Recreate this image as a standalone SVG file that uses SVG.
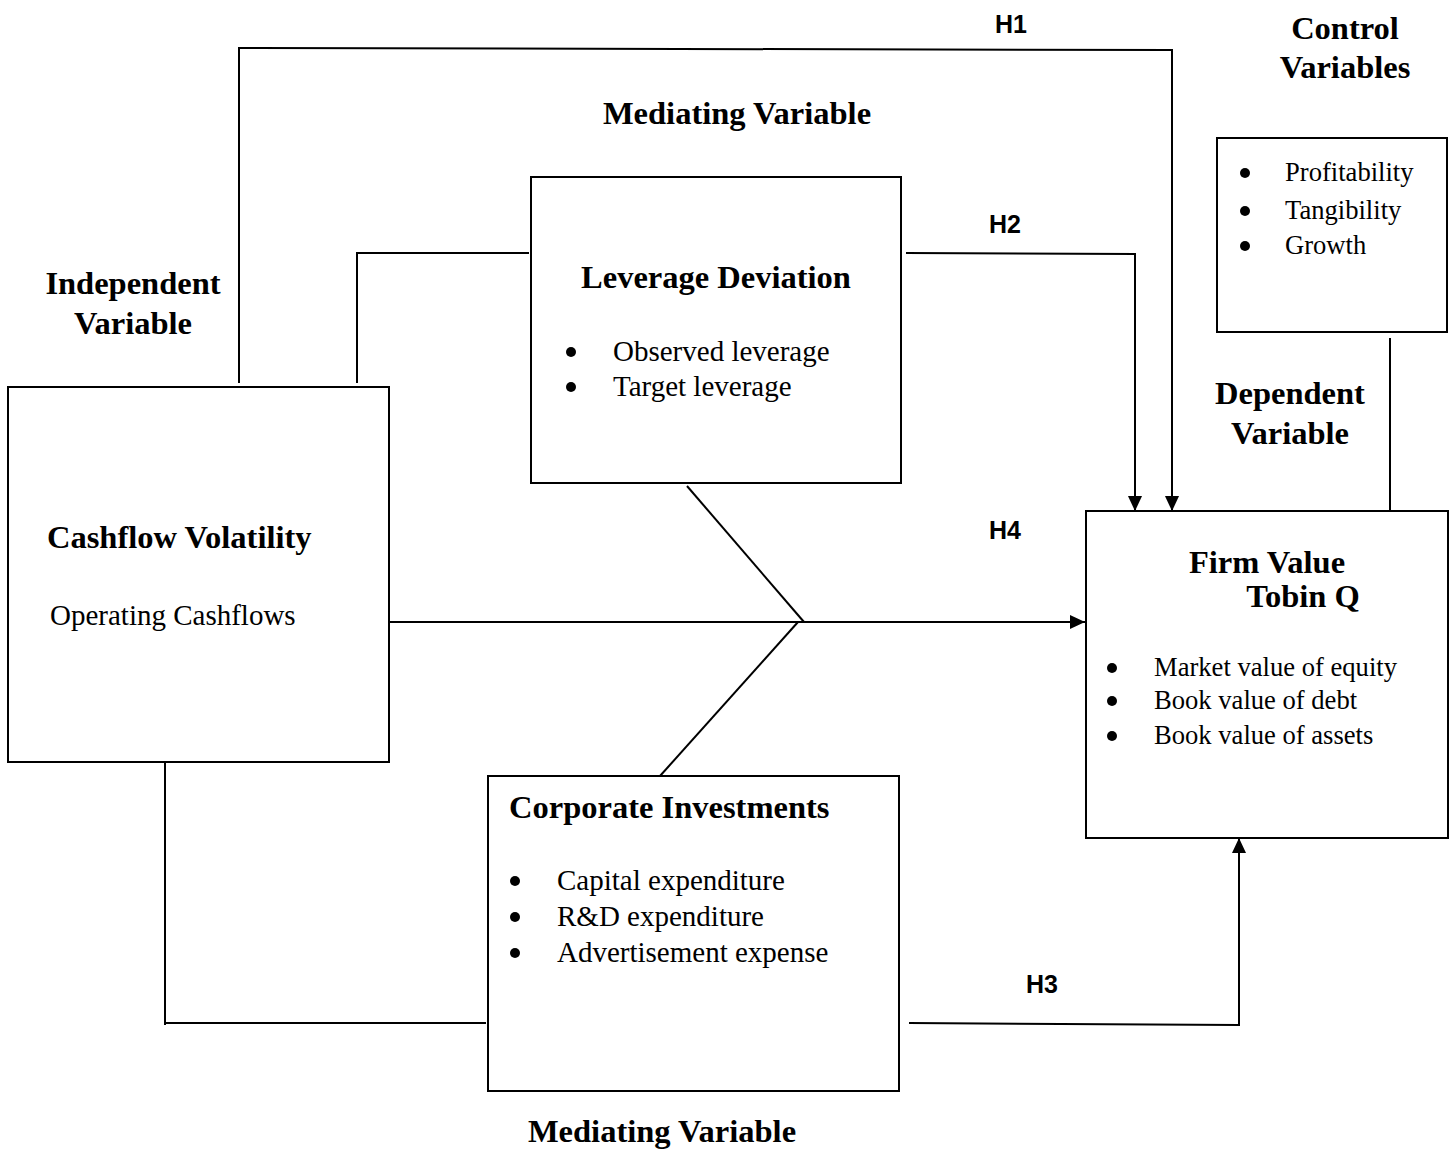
<svg xmlns="http://www.w3.org/2000/svg" width="1455" height="1149" viewBox="0 0 1455 1149">
<defs>
<marker id="arr" markerWidth="15" markerHeight="16" refX="16" refY="7.5" orient="auto" markerUnits="userSpaceOnUse" viewBox="0 0 16 15">
<path d="M0,0 L16,7.5 L0,15 Z" fill="#000"/>
</marker>
<style>
.box{fill:#fff;stroke:#000;stroke-width:2}
.ln{fill:none;stroke:#000;stroke-width:2}
.b{font-family:"Liberation Serif","Times New Roman",serif;font-weight:bold;font-size:32.5px;fill:#000}
.r{font-family:"Liberation Serif","Times New Roman",serif;font-size:29px;fill:#000}
.s{font-family:"Liberation Serif","Times New Roman",serif;font-size:26.6px;fill:#000}
.h{font-family:"Liberation Sans",Arial,sans-serif;font-weight:bold;font-size:25px;fill:#000}
.dot{fill:#000}
</style>
</defs>
<rect width="1455" height="1149" fill="#fff"/>
<g id="connectors">
<polyline class="ln" points="239,383 239,48 1172,50 1172,511" marker-end="url(#arr)"/>
<polyline class="ln" points="357,383 357,253 529,253"/>
<polyline class="ln" points="906,253 1135,254 1135,511" marker-end="url(#arr)"/>
<line class="ln" x1="389" y1="622" x2="1085" y2="622" marker-end="url(#arr)"/>
<line class="ln" x1="687" y1="486" x2="804" y2="622"/>
<line class="ln" x1="660" y1="776" x2="798" y2="622"/>
<polyline class="ln" points="165,762 165,1025"/>
<line class="ln" x1="164" y1="1023" x2="486" y2="1023"/>
<polyline class="ln" points="909,1023 1239,1025 1239,838" marker-end="url(#arr)"/>
<line class="ln" x1="1390" y1="338" x2="1390" y2="511"/>
</g>
<g id="labels">
<text class="h" x="1011" y="33" text-anchor="middle">H1</text>
<text class="h" x="1005" y="233" text-anchor="middle">H2</text>
<text class="h" x="1005" y="539" text-anchor="middle">H4</text>
<text class="h" x="1042" y="993" text-anchor="middle">H3</text>
<text class="b" x="1345" y="39" text-anchor="middle">Control</text>
<text class="b" x="1345" y="78" text-anchor="middle">Variables</text>
<text class="b" x="737" y="124" text-anchor="middle">Mediating Variable</text>
<text class="b" x="133" y="294" text-anchor="middle">Independent</text>
<text class="b" x="133" y="334" text-anchor="middle">Variable</text>
<text class="b" x="1290" y="404" text-anchor="middle">Dependent</text>
<text class="b" x="1290" y="444" text-anchor="middle">Variable</text>
<text class="b" x="662" y="1142" text-anchor="middle">Mediating Variable</text>
</g>
<g id="cashflow">
<rect class="box" x="8" y="387" width="381" height="375"/>
<text class="b" x="47" y="548">Cashflow Volatility</text>
<text class="r" x="50" y="625">Operating Cashflows</text>
</g>
<g id="leverage">
<rect class="box" x="531" y="177" width="370" height="306"/>
<text class="b" x="716" y="288" text-anchor="middle">Leverage Deviation</text>
<circle class="dot" cx="571" cy="352" r="5"/>
<text class="r" x="613" y="361">Observed leverage</text>
<circle class="dot" cx="571" cy="387" r="5"/>
<text class="r" x="613" y="396">Target leverage</text>
</g>
<g id="investments">
<rect class="box" x="488" y="776" width="411" height="315"/>
<text class="b" x="509" y="818">Corporate Investments</text>
<circle class="dot" cx="515" cy="881" r="5"/>
<text class="r" x="557" y="890">Capital expenditure</text>
<circle class="dot" cx="515" cy="917" r="5"/>
<text class="r" x="557" y="926">R&amp;D expenditure</text>
<circle class="dot" cx="515" cy="953" r="5"/>
<text class="r" x="557" y="962">Advertisement expense</text>
</g>
<g id="firmvalue">
<rect class="box" x="1086" y="511" width="362" height="327"/>
<text class="b" x="1267" y="573" text-anchor="middle">Firm Value</text>
<text class="b" x="1303" y="607" text-anchor="middle">Tobin Q</text>
<circle class="dot" cx="1112" cy="668" r="5"/>
<text class="s" x="1154" y="676">Market value of equity</text>
<circle class="dot" cx="1112" cy="701" r="5"/>
<text class="s" x="1154" y="709">Book value of debt</text>
<circle class="dot" cx="1112" cy="736" r="5"/>
<text class="s" x="1154" y="744">Book value of assets</text>
</g>
<g id="controls">
<rect class="box" x="1217" y="138" width="230" height="194"/>
<circle class="dot" cx="1245" cy="173" r="5"/>
<text class="s" x="1285" y="181">Profitability</text>
<circle class="dot" cx="1245" cy="211" r="5"/>
<text class="s" x="1285" y="219">Tangibility</text>
<circle class="dot" cx="1245" cy="246" r="5"/>
<text class="s" x="1285" y="254">Growth</text>
</g>
</svg>
